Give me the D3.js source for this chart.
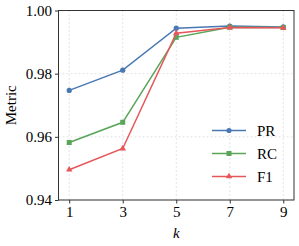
<!DOCTYPE html>
<html>
<head>
<meta charset="utf-8">
<script src="https://cdn.jsdelivr.net/npm/d3@7"></script>
<style>
  html, body { margin: 0; padding: 0; background: #fff; }
  svg text { font-family: "Liberation Serif", "DejaVu Serif", serif; }
</style>
</head>
<body>
<div id="container"></div>
<script>
// Valores
const kValues = [1, 3, 5, 7, 9];
const prValues = [0.9747, 0.9811, 0.9944, 0.9951, 0.9948];
const rcValues = [0.9582, 0.9646, 0.9915, 0.9947, 0.9946];
const f1Values = [0.9496, 0.9563, 0.9928, 0.9946, 0.9945];
const yTicks = [0.94, 0.96, 0.98, 1.00];
const seriesNames = ['PR', 'RC', 'F1'];
const seriesColors = ['#4a78b2', '#59a65a', '#e5575a'];

const width = 299;
const height = 246;
const margin = { top: 10.5, right: 5, bottom: 46, left: 58.5 };
const serif = 'Liberation Serif, DejaVu Serif, serif';

const svg = d3.select('#container')
  .append('svg')
  .attr('width', width)
  .attr('height', height)
  .attr('font-family', serif);

const x = d3.scaleLinear().domain([0.6, 9.4]).range([margin.left, width - margin.right]);
const y = d3.scaleLinear().domain([0.94, 1.00]).range([height - margin.bottom, margin.top]);

// Grade tracejada
const grid = svg.append('g').attr('stroke', '#dddddd').attr('stroke-width', 0.8).attr('stroke-dasharray', '2,2');
grid.selectAll('.gx').data(kValues).join('line')
  .attr('x1', d => x(d)).attr('x2', d => x(d))
  .attr('y1', y.range()[0]).attr('y2', y.range()[1]);
grid.selectAll('.gy').data(yTicks).join('line')
  .attr('x1', x.range()[0]).attr('x2', x.range()[1])
  .attr('y1', d => y(d)).attr('y2', d => y(d));

// Eixos
const xAxis = svg.append('g')
  .attr('transform', `translate(0, ${height - margin.bottom})`)
  .call(d3.axisBottom(x).tickValues(kValues).tickFormat(d3.format('d')).tickSize(3.5).tickPadding(3));
const yAxis = svg.append('g')
  .attr('transform', `translate(${margin.left}, 0)`)
  .call(d3.axisLeft(y).tickValues(yTicks).tickFormat(d3.format('.2f')).tickSize(3.5).tickPadding(3));

[xAxis, yAxis].forEach(a => {
  a.attr('font-family', serif).attr('font-size', 15);
  a.select('.domain').remove();
  a.selectAll('line').attr('stroke', '#333');
  a.selectAll('text').attr('fill', '#000');
});

// Moldura
svg.append('rect')
  .attr('x', margin.left).attr('y', margin.top)
  .attr('width', x.range()[1] - x.range()[0])
  .attr('height', y.range()[0] - y.range()[1])
  .attr('fill', 'none').attr('stroke', '#333').attr('stroke-width', 1);

// Rótulos dos eixos
svg.append('text')
  .attr('transform', `translate(16, ${(y.range()[0] + y.range()[1]) / 2}) rotate(-90)`)
  .attr('text-anchor', 'middle')
  .attr('font-size', 15)
  .text('Metric');
svg.append('text')
  .attr('x', (x.range()[0] + x.range()[1]) / 2)
  .attr('y', 238)
  .attr('text-anchor', 'middle')
  .attr('font-size', 15)
  .attr('font-style', 'italic')
  .text('k');

const allSeries = [prValues, rcValues, f1Values];
const line = d3.line().x((d, i) => x(kValues[i])).y(d => y(d));

function drawMarker(g, type, color) {
  if (type === 0) {
    g.append('circle').attr('r', 2.6).attr('fill', color);
  } else if (type === 1) {
    g.append('rect').attr('x', -2.5).attr('y', -2.5).attr('width', 5).attr('height', 5).attr('fill', color);
  } else {
    g.append('path').attr('d', d3.symbol().type(d3.symbolTriangle).size(18)()).attr('fill', color);
  }
}

allSeries.forEach((vals, s) => {
  svg.append('path')
    .datum(vals)
    .attr('fill', 'none')
    .attr('stroke', seriesColors[s])
    .attr('stroke-width', 1.5)
    .attr('d', line);
  vals.forEach((v, i) => {
    const g = svg.append('g').attr('transform', `translate(${x(kValues[i])}, ${y(v)})`);
    drawMarker(g, s, seriesColors[s]);
  });
});

// Legenda
const legendY = [130.5, 153.5, 176.5];
seriesNames.forEach((name, s) => {
  const g = svg.append('g').attr('transform', `translate(212, ${legendY[s]})`);
  g.append('line').attr('x1', 0).attr('x2', 34).attr('stroke', seriesColors[s]).attr('stroke-width', 1.5);
  const m = g.append('g').attr('transform', 'translate(17, 0)');
  drawMarker(m, s, seriesColors[s]);
  g.append('text').attr('x', 45).attr('dy', '0.35em').attr('font-size', 15).text(name);
});
</script>
</body>
</html>
